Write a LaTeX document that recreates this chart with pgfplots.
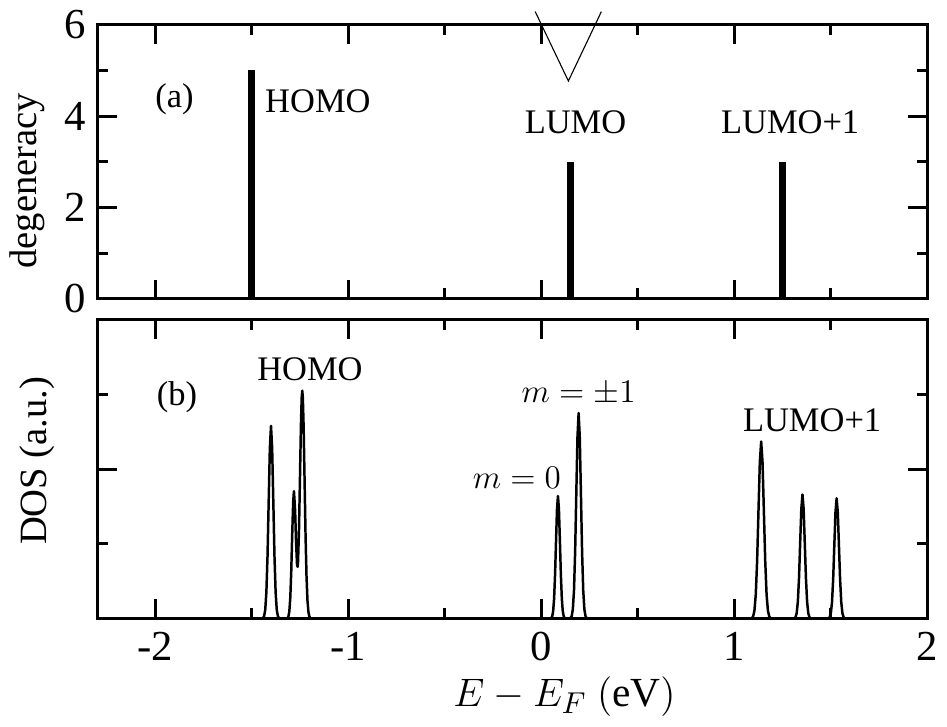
\documentclass[border=0pt]{standalone}
\usepackage{fontspec}
\setmainfont{Liberation Serif}
\usepackage{pgfplots}
\pgfplotsset{compat=1.18}

\pgfplotsset{
  panel/.style={
    scale only axis, width=301pt,
    xmin=-2.3, xmax=2,
    axis line style={line width=1.1pt},
    every tick/.style={black, line width=1.1pt},
    major tick length=7pt, minor tick length=3.8pt,
    tick align=inside,
    xtick={-2,-1,0,1,2}, minor xtick={-1.5,-0.5,0.5,1.5},
    tick label style={font=\fontsize{15.5}{18}\selectfont},
    yticklabel style={xshift=-0.5pt},
    xticklabel style={yshift=-1.5pt},
    label style={font=\fontsize{14}{16}\selectfont},
    clip=false,
  },
}
\tikzset{lab/.style={font=\fontsize{12.5}{15}\selectfont, inner sep=0pt}}

\begin{document}
\begin{tikzpicture}
% invisible frame to keep the margins of the reference
\path (-35.3pt,-155.2pt) rectangle (305.6pt,108.4pt);

% (a) degeneracy
\begin{axis}[panel, name=pa,
  height=99.4pt,
  ymin=0, ymax=6,
  ytick={0,2,4,6}, minor ytick={1,3,5},
  xticklabels={},
  yticklabels={0,2,4,6},
  ylabel={degeneracy},
  ylabel style={at={(axis description cs:-0.084,0.431)}, anchor=center},
]
\addplot[ycomb, no marks, black, line width=2.5pt] coordinates {
  (-1.50,5) (0.15,3) (1.25,3)
};
\addplot[no marks, black, line width=0.4pt] coordinates {
  (-0.031,6.29) (0.141,4.77) (0.312,6.29)
};
\node[lab] at (axis cs:-1.90,4.37) {(a)};
\node[lab] at (axis cs:-1.157,4.33) {HOMO};
\node[lab] at (axis cs:0.178,3.87) {LUMO};
\node[lab] at (axis cs:1.29,3.87) {LUMO+1};
\end{axis}

% (b) DOS
\begin{axis}[panel,
  at={(pa.south west)}, yshift=-7.56pt, anchor=north west,
  height=108.4pt,
  ymin=0, ymax=4,
  ytick={2}, minor ytick={1,3},
  yticklabels={},
  xticklabels={-2,-1,0,1,2},
  xlabel={$E-E_F\ \mathrm{(eV)}$},
  xlabel style={font=\fontsize{15}{17}\selectfont, at={(axis description cs:0.563,-0.26)}, anchor=center},
  ylabel={DOS (a.u.)},
  ylabel style={at={(axis description cs:-0.073,0.528)}, anchor=center},
]
\addplot[no marks, black, line width=0.9pt, line join=round] coordinates {
  (-2.30,0) (-1.448,0)
  (-1.442,0.006) (-1.436,0.029) (-1.430,0.113) (-1.424,0.349) (-1.418,0.838)
  (-1.412,1.565) (-1.406,2.277) (-1.400,2.580) (-1.394,2.277) (-1.388,1.565)
  (-1.382,0.838) (-1.376,0.349) (-1.370,0.113) (-1.364,0.029) (-1.358,0.006)
  (-1.350,0) (-1.320,0)
  (-1.315,0.005) (-1.310,0.025) (-1.305,0.095) (-1.300,0.280) (-1.295,0.638)
  (-1.290,1.134) (-1.285,1.570) (-1.281,1.705) (-1.275,1.446) (-1.270,1.015)
  (-1.265,0.716) (-1.262,0.693) (-1.260,0.755) (-1.255,1.176) (-1.250,1.864)
  (-1.245,2.576) (-1.241,2.956) (-1.238,3.050) (-1.235,2.956) (-1.231,2.573)
  (-1.226,1.850) (-1.221,1.118) (-1.216,0.568) (-1.211,0.243) (-1.206,0.087)
  (-1.201,0.026) (-1.196,0.007) (-1.190,0)
  (0.046,0)
  (0.052,0.006) (0.057,0.028) (0.062,0.096) (0.067,0.267) (0.072,0.591)
  (0.077,1.042) (0.082,1.465) (0.087,1.640) (0.092,1.465) (0.097,1.042)
  (0.102,0.591) (0.107,0.267) (0.112,0.096) (0.117,0.028) (0.122,0.006)
  (0.128,0) (0.146,0)
  (0.152,0.006) (0.158,0.031) (0.164,0.121) (0.170,0.372) (0.176,0.893)
  (0.182,1.668) (0.188,2.427) (0.194,2.750) (0.200,2.427) (0.206,1.668)
  (0.212,0.893) (0.218,0.372) (0.224,0.121) (0.230,0.031) (0.236,0.006)
  (0.242,0) (1.084,0)
  (1.091,0.005) (1.098,0.026) (1.105,0.104) (1.112,0.321) (1.119,0.770)
  (1.126,1.437) (1.133,2.092) (1.140,2.370) (1.147,2.092) (1.154,1.437)
  (1.161,0.770) (1.168,0.321) (1.175,0.104) (1.182,0.026) (1.189,0.005)
  (1.196,0) (1.306,0)
  (1.312,0.004) (1.318,0.018) (1.324,0.073) (1.330,0.225) (1.336,0.539)
  (1.342,1.007) (1.348,1.465) (1.354,1.660) (1.360,1.465) (1.366,1.007)
  (1.372,0.539) (1.378,0.225) (1.384,0.073) (1.390,0.018) (1.396,0.004)
  (1.402,0) (1.483,0)
  (1.489,0.004) (1.495,0.018) (1.501,0.071) (1.507,0.218) (1.513,0.523)
  (1.519,0.976) (1.525,1.421) (1.531,1.610) (1.537,1.421) (1.543,0.976)
  (1.549,0.523) (1.555,0.218) (1.561,0.071) (1.567,0.018) (1.573,0.004)
  (1.579,0) (2.00,0)
};
\node[lab] at (axis cs:-1.887,2.96) {(b)};
\node[lab] at (axis cs:-1.198,3.34) {HOMO};
\node[lab] at (axis cs:0.194,3.01) {$m=\pm1$};
\node[lab] at (axis cs:-0.126,1.88) {$m=0$};
\node[lab] at (axis cs:1.404,2.65) {LUMO+1};
\end{axis}
\end{tikzpicture}
\end{document}
